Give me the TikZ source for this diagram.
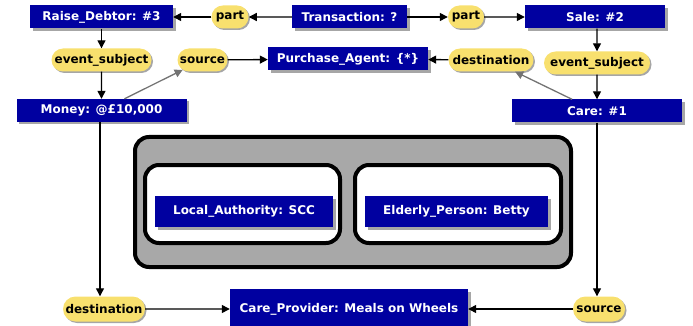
\documentclass[tikz,border=0pt]{standalone}
\usepackage{fontspec}
\setmainfont{DejaVu Sans}
\usetikzlibrary{shapes.misc,shadows,arrows.meta}
\definecolor{boxblue}{RGB}{0,0,160}
\definecolor{ellyellow}{RGB}{248,224,110}
\definecolor{panelgray}{RGB}{168,168,168}
\tikzset{
  lbl/.style={font=\bfseries\fontsize{12}{14}\selectfont},
  concept/.style={lbl, rectangle, fill=boxblue, text=white, inner sep=0pt, minimum height=23pt,
    drop shadow={shadow xshift=2.5pt, shadow yshift=-2.5pt, fill=black!35, opacity=1}},
  rel/.style={lbl, rounded rectangle, fill=ellyellow, text=black, inner xsep=3pt, inner ysep=0pt, minimum height=23pt,
    drop shadow={shadow xshift=1.5pt, shadow yshift=-1.5pt, fill=black!35, opacity=1}},
  link/.style={-{Triangle[length=8pt,width=8pt]}, line width=1.3pt, draw=black},
  glink/.style={link, draw=black!55},
  panel/.style={rectangle, rounded corners=14pt, draw=black, line width=4pt, fill=panelgray, inner sep=0pt},
  subpanel/.style={rectangle, rounded corners=14pt, draw=black, line width=4pt, fill=white, inner sep=0pt},
}
\begin{document}
\begin{tikzpicture}[x=1pt,y=-1pt]
\useasboundingbox (0,0) rectangle (693,326);
% containers
\node[panel, minimum width=436pt, minimum height=130pt] (outer) at (353,202) {};
\node[subpanel, minimum width=195pt, minimum height=78pt] (inL) at (242.5,204) {};
\node[subpanel, minimum width=206pt, minimum height=78pt] (inR) at (458,204) {};
\node[concept, minimum width=178pt, minimum height=31pt] (la) at (244,211.5) {Local\_Authority: SCC};
\node[concept, minimum width=183pt, minimum height=31pt] (ep) at (456.5,211.5) {Elderly\_Person: Betty};
% concepts
\node[concept, minimum width=143pt] (rd) at (101.5,17) {Raise\_Debtor: \#3};
\node[concept, minimum width=115pt] (tr) at (349.5,17) {Transaction: ?};
\node[concept, minimum width=140pt] (sale) at (595,17) {Sale: \#2};
\node[concept, minimum width=160pt] (pa) at (348,59) {Purchase\_Agent: \{*\}};
\node[concept, minimum width=170pt] (money) at (101.5,110.5) {Money: @£10,000};
\node[concept, minimum width=170pt] (care) at (597,111) {Care: \#1};
\node[concept, minimum width=238pt, minimum height=40pt] (cp) at (349,309) {Care\_Provider: Meals on Wheels};
% relations
\node[rel, minimum width=36pt] (partL) at (230,17) {part};
\node[rel, minimum width=42pt] (partR) at (466,17) {part};
\node[rel, minimum width=106pt] (esL) at (101.5,60) {event\_subject};
\node[rel, minimum width=56pt] (srcT) at (202.5,60) {source};
\node[rel, minimum width=73pt] (dstT) at (491,60) {destination};
\node[rel, minimum width=112pt] (esR) at (597,63) {event\_subject};
\node[rel, minimum width=88pt, minimum height=25pt] (dstB) at (104,309) {destination};
\node[rel, minimum width=58pt, minimum height=25pt] (srcB) at (599,309) {source};
% connectors
\draw[link] (tr) -- (partL);
\draw[link] (partL) -- (rd);
\draw[link] (tr) -- (partR);
\draw[link] (partR) -- (sale);
\draw[link] (rd) -- (esL);
\draw[link] (esL) -- (money);
\draw[link] (sale.south -| esR) -- (esR);
\draw[link] (esR) -- (care);
\draw[glink] ([xshift=23pt]money.north) -- (srcT);
\draw[link] (srcT) -- (pa);
\draw[glink] ([xshift=-25pt]care.north) -- (dstT);
\draw[link] (dstT) -- (pa);
\draw[link] ([xshift=-1.5pt]money.south) -- ([xshift=-1.5pt]money.south |- dstB.north);
\draw[link] (dstB) -- (cp);
\draw[link] (care.south) -- (care.south |- srcB.north);
\draw[link] (srcB) -- (cp);
\end{tikzpicture}
\end{document}
